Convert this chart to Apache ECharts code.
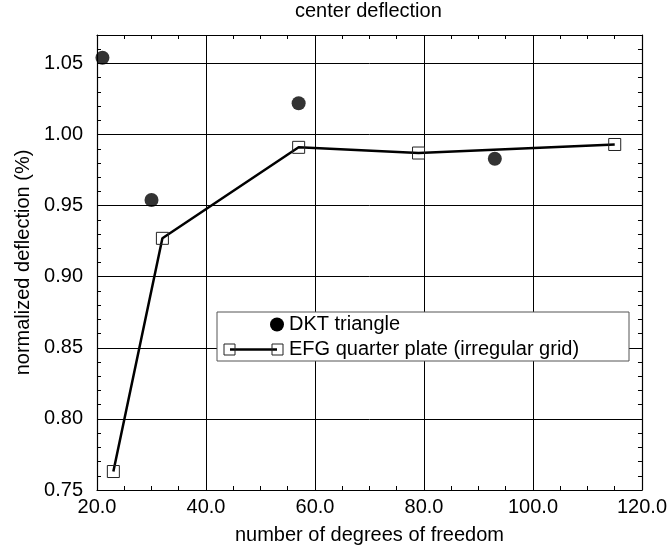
<!DOCTYPE html>
<html>
<head>
<meta charset="utf-8">
<script src="https://cdn.jsdelivr.net/npm/echarts@6/dist/echarts.min.js"></script>
<style>
html,body{margin:0;padding:0;background:#fff;}
#chart{width:670px;height:550px;}
</style>
</head>
<body>
<div id="chart"></div>
<script>
const titleText = 'center deflection';
const xAxisName = 'number of degrees of freedom';
const yAxisName = 'normalized deflection (%)';
const dktName = 'DKT triangle';
const efgName = 'EFG quarter plate (irregular grid)';
const dktX = [21, 30, 57, 93];
const dktY = [1.054, 0.954, 1.022, 0.983];
const efgX = [23, 32, 57, 79, 115];
const efgY = [0.763, 0.927, 0.991, 0.987, 0.993];
const xTicks = [20, 40, 60, 80, 100, 120];
const yTicks = [0.75, 0.80, 0.85, 0.90, 0.95, 1.00, 1.05];

const FONT = '"Liberation Sans", Arial, sans-serif';
const FS = 20;
const chart = echarts.init(document.getElementById('chart'), null, {renderer: 'canvas'});

const xMin = xTicks[0], xMax = xTicks[xTicks.length - 1];
const xInt = xTicks[1] - xTicks[0];
const yMin = yTicks[0], yMax = 1.07;
const yInt = 0.05;

const baseAxis = {
  axisLine: {show: true, lineStyle: {color: '#000', width: 1.2}},
  axisTick: {show: true, inside: true, length: 5, lineStyle: {color: '#000'}},
  minorTick: {show: true, length: 4, lineStyle: {color: '#000'}},
};

const option = {
  backgroundColor: '#fff',
  animation: false,
  title: {
    text: titleText, left: 295, top: 1, padding: 0,
    textStyle: {fontFamily: FONT, fontSize: FS, fontWeight: 'normal', color: '#000'}
  },
  grid: {left: 97, right: 25, top: 35, bottom: 56, containLabel: false},
  xAxis: [
    Object.assign({}, baseAxis, {
      type: 'value', min: xMin, max: xMax, interval: xInt, position: 'bottom',
      minorTick: {show: true, splitNumber: 4, length: 4, lineStyle: {color: '#000'}},
      splitLine: {show: true, lineStyle: {color: '#000', width: 1}},
      axisLabel: {margin: 7, color: '#000', fontFamily: FONT, fontSize: FS,
        formatter: v => v.toFixed(1)},
      name: xAxisName, nameLocation: 'middle', nameGap: 35,
      nameTextStyle: {fontFamily: FONT, fontSize: FS, color: '#000'}
    }),
    Object.assign({}, baseAxis, {
      type: 'value', min: xMin, max: xMax, interval: xInt, position: 'top',
      minorTick: {show: true, splitNumber: 4, length: 4, lineStyle: {color: '#000'}},
      splitLine: {show: false}, axisLabel: {show: false}
    })
  ],
  yAxis: [
    Object.assign({}, baseAxis, {
      type: 'value', min: yMin, max: yMax, interval: yInt, position: 'left',
      minorTick: {show: true, splitNumber: 5, length: 4, lineStyle: {color: '#000'}},
      splitLine: {show: true, lineStyle: {color: '#000', width: 1}},
      axisLabel: {margin: 14, color: '#000', fontFamily: FONT, fontSize: FS, showMaxLabel: false,
        formatter: v => v.toFixed(2)},
      name: yAxisName, nameLocation: 'middle', nameGap: 60,
      nameTextStyle: {fontFamily: FONT, fontSize: FS, color: '#000'}
    }),
    Object.assign({}, baseAxis, {
      type: 'value', min: yMin, max: yMax, interval: yInt, position: 'right',
      minorTick: {show: true, splitNumber: 5, length: 4, lineStyle: {color: '#000'}},
      splitLine: {show: false}, axisLabel: {show: false}
    })
  ],
  series: [
    {
      name: efgName, type: 'line', xAxisIndex: 0, yAxisIndex: 0,
      data: efgX.map((x, i) => [x, efgY[i]]),
      symbol: 'rect', symbolSize: 12, showAllSymbol: true,
      lineStyle: {color: '#000', width: 2.5},
      itemStyle: {color: 'rgba(255,255,255,0)', borderColor: '#222', borderWidth: 1},
      emphasis: {disabled: true}, clip: false, z: 3
    },
    {
      name: dktName, type: 'scatter', xAxisIndex: 0, yAxisIndex: 0,
      data: dktX.map((x, i) => [x, dktY[i]]),
      symbol: 'circle', symbolSize: 14,
      itemStyle: {color: '#000'},
      emphasis: {disabled: true}, clip: false, z: 4
    }
  ],
  graphic: [
    {type: 'rect', shape: {x: 217, y: 312, width: 412, height: 49},
      style: {fill: '#fff', stroke: '#555', lineWidth: 1}, z: 100},
    {type: 'circle', shape: {cx: 277, cy: 324.5, r: 7}, style: {fill: '#000'}, z: 101},
    {type: 'text', x: 289, y: 324.5, z: 101,
      style: {text: dktName, font: FS + 'px ' + FONT, fill: '#000', textVerticalAlign: 'middle', verticalAlign: 'middle'}},
    {type: 'line', shape: {x1: 230, y1: 349.5, x2: 277, y2: 349.5},
      style: {stroke: '#000', lineWidth: 2.5}, z: 101},
    {type: 'rect', shape: {x: 224, y: 344, width: 11, height: 11},
      style: {fill: 'none', stroke: '#222', lineWidth: 1}, z: 102},
    {type: 'rect', shape: {x: 272, y: 344, width: 11, height: 11},
      style: {fill: 'none', stroke: '#222', lineWidth: 1}, z: 102},
    {type: 'text', x: 289, y: 349.5, z: 101,
      style: {text: efgName, font: FS + 'px ' + FONT, fill: '#000', textVerticalAlign: 'middle', verticalAlign: 'middle'}}
  ]
};
chart.setOption(option);
</script>
</body>
</html>
